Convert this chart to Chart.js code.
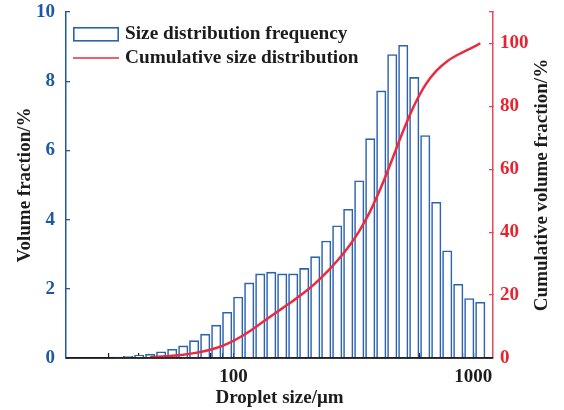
<!DOCTYPE html>
<html>
<head>
<meta charset="utf-8">
<script src="https://cdn.jsdelivr.net/npm/chart.js@4/dist/chart.umd.min.js"></script>
<style>
  html, body { margin: 0; padding: 0; background: #ffffff; }
  #wrap { width: 564px; height: 410px; }
</style>
</head>
<body>
<div id="wrap"><canvas id="chart" width="564" height="410"></canvas></div>
<script>
// Droplet size classes (µm, bin centres) and their volume fraction (%)
const dropletSizes = [32.7, 36.3, 40.4, 44.9, 49.9, 55.5, 61.7, 68.5, 76.2, 84.7,
                      94.1, 104.6, 116.3, 129.3, 143.7, 159.7, 177.5, 197.3, 219.3, 243.7,
                      270.9, 301.1, 334.7, 372.0, 413.5, 459.6, 510.8, 567.8, 631.1, 701.5,
                      779.7, 866.6, 963.3, 1070.7];
const volumeFraction = [0.03, 0.05, 0.08, 0.11, 0.18, 0.25, 0.35, 0.50, 0.69, 0.95,
                        1.32, 1.76, 2.17, 2.43, 2.48, 2.43, 2.43, 2.59, 2.93, 3.38,
                        3.82, 4.30, 5.12, 6.34, 7.72, 8.77, 9.04, 8.11, 6.43, 4.50,
                        3.10, 2.13, 1.72, 1.61];

// Cumulative volume fraction (%) along the same size classes
const cumulativeSizes = [44.9, 49.9, 55.5, 61.7, 68.5, 76.2, 84.7,
                         94.1, 104.6, 116.3, 129.3, 143.7, 159.7, 177.5, 197.3, 219.3, 243.7,
                         270.9, 301.1, 334.7, 372.0, 413.5, 459.6, 510.8, 567.8, 631.1, 701.5,
                         779.7, 866.6, 963.3, 1070.7];
const cumulativeFraction = [0.27, 0.45, 0.70, 1.05, 1.55, 2.24, 3.19,
                            4.51, 6.27, 8.44, 10.87, 13.35, 15.78, 18.21, 20.80, 23.73, 27.11,
                            30.93, 35.23, 40.35, 46.69, 54.41, 63.18, 72.22, 80.33, 86.76, 91.26,
                            94.36, 96.49, 98.21, 100.0];

// Axis ticks
const xTickValues = [30, 40, 50, 60, 70, 80, 90, 100, 200, 300, 400, 500, 600, 700, 800, 900, 1000];
const xTickLabels = [100, 1000];
const leftTicks = [0, 2, 4, 6, 8, 10];
const rightTicks = [0, 20, 40, 60, 80, 100];

const BLUE = '#1c58a4';
const BAR_BLUE = '#2b63b1';
const RED = '#e8222f';
const RED_AXIS = '#e8475a';
const CURVE_RED = '#ec2a3e';
const INK = '#1c1c1c';
const SERIF = "'Liberation Serif', 'DejaVu Serif', serif";
const tickFont = { family: SERIF, size: 19, weight: 'bold' };

const seriesNames = ['Size distribution frequency', 'Cumulative size distribution'];
const axisTitles = {
  x: 'Droplet size/\u03bcm',
  y: 'Volume fraction/%',
  y1: 'Cumulative volume fraction/%'
};

// Axis titles, drawn so the right-hand one reads bottom-to-top like the left one
const axisTitlePlugin = {
  id: 'axisTitles',
  afterDraw(chart) {
    const { ctx, chartArea: a } = chart;
    const midY = (a.top + a.bottom) / 2;
    ctx.save();
    ctx.fillStyle = INK;
    ctx.font = `bold 19px ${SERIF}`;
    ctx.textAlign = 'center';
    ctx.textBaseline = 'middle';
    ctx.fillText(axisTitles.x, (a.left + a.right) / 2, a.bottom + 40);
    ctx.save();
    ctx.translate(a.left - 41, midY);
    ctx.rotate(-Math.PI / 2);
    ctx.fillText(axisTitles.y, 0, 0);
    ctx.restore();
    ctx.save();
    ctx.translate(a.right + 49, midY);
    ctx.rotate(-Math.PI / 2);
    ctx.fillText(axisTitles.y1, 0, 0);
    ctx.restore();
    ctx.restore();
  }
};

// Legend inside the plot, top-left corner
const legendPlugin = {
  id: 'insideLegend',
  afterDraw(chart) {
    const { ctx, chartArea: a } = chart;
    const bars = chart.data.datasets[1];
    const curve = chart.data.datasets[0];
    const x0 = a.left + 7, w = 46;
    ctx.save();
    ctx.strokeStyle = bars.borderColor;
    ctx.lineWidth = 1.6;
    ctx.fillStyle = '#ffffff';
    ctx.fillRect(x0, a.top + 15, w, 14.5);
    ctx.strokeRect(x0 + 0.8, a.top + 15.8, w - 1.6, 13);
    ctx.strokeStyle = curve.borderColor;
    ctx.lineWidth = 1.5;
    ctx.beginPath();
    ctx.moveTo(x0, a.top + 46);
    ctx.lineTo(x0 + w, a.top + 46);
    ctx.stroke();
    ctx.fillStyle = INK;
    ctx.font = `bold 19.3px ${SERIF}`;
    ctx.textAlign = 'left';
    ctx.textBaseline = 'alphabetic';
    ctx.fillText(seriesNames[0], x0 + 52, a.top + 26.5);
    ctx.fillText(seriesNames[1], x0 + 52, a.top + 50.8);
    ctx.restore();
  }
};

// Keep the bottom axis line visible over the bar bases
const baseLinePlugin = {
  id: 'baseLine',
  afterDatasetsDraw(chart) {
    const { ctx, chartArea: a } = chart;
    ctx.save();
    ctx.strokeStyle = INK;
    ctx.lineWidth = 1.5;
    ctx.beginPath();
    ctx.moveTo(a.left, a.bottom);
    ctx.lineTo(a.right, a.bottom);
    ctx.stroke();
    ctx.restore();
  }
};

// Fixed axis box sizes, without the extra room Chart.js keeps for overhanging labels
const fixBox = (w, h) => s => {
  if (w !== null) s.width = w;
  if (h !== null) s.height = h;
  s.paddingTop = 0; s.paddingBottom = 0; s.paddingLeft = 0; s.paddingRight = 0;
};

new Chart(document.getElementById('chart'), {
  type: 'bar',
  data: {
    datasets: [
      {
        type: 'line',
        label: seriesNames[1],
        data: cumulativeSizes.map((s, i) => ({ x: s, y: cumulativeFraction[i] })),
        yAxisID: 'y1',
        borderColor: CURVE_RED,
        borderWidth: 2.5,
        pointRadius: 0,
        cubicInterpolationMode: 'monotone',
        fill: false,
        order: 0
      },
      {
        type: 'bar',
        label: seriesNames[0],
        data: dropletSizes.map((s, i) => ({ x: s, y: volumeFraction[i] })),
        yAxisID: 'y',
        backgroundColor: '#ffffff',
        borderColor: BAR_BLUE,
        borderWidth: 1.6,
        barThickness: 9.4,
        order: 1
      }
    ]
  },
  options: {
    responsive: false,
    devicePixelRatio: 1,
    animation: false,
    layout: { padding: { top: 12, left: 0, right: 0, bottom: 0 } },
    plugins: {
      legend: { display: false },
      tooltip: { enabled: false },
      title: { display: false }
    },
    scales: {
      x: {
        type: 'logarithmic',
        position: 'bottom',
        min: 20,
        max: 1210,
        offset: false,
        afterBuildTicks: s => { s.ticks = xTickValues.map(v => ({ value: v })); },
        afterFit: fixBox(null, 52),
        grid: { display: true, drawOnChartArea: false, drawTicks: true, tickLength: -5,
                color: INK, lineWidth: 1.2, offset: false },
        border: { display: true, color: INK, width: 1.5 },
        ticks: {
          autoSkip: false, maxRotation: 0, minRotation: 0, padding: 13,
          font: tickFont, color: INK,
          callback: v => (xTickLabels.includes(v) ? String(v) : '')
        }
      },
      y: {
        type: 'linear',
        position: 'left',
        min: 0,
        max: 10,
        afterBuildTicks: s => { s.ticks = leftTicks.map(v => ({ value: v })); },
        afterFit: fixBox(66, null),
        grid: { display: true, drawOnChartArea: false, drawTicks: true, tickLength: -4,
                color: BLUE, lineWidth: 1.3 },
        border: { display: true, color: BLUE, width: 1.5 },
        ticks: { padding: 15, font: tickFont, color: BLUE }
      },
      y1: {
        type: 'linear',
        position: 'right',
        min: 0,
        max: 110,
        afterBuildTicks: s => { s.ticks = rightTicks.concat([110]).map(v => ({ value: v })); },
        afterFit: fixBox(71, null),
        grid: { display: true, drawOnChartArea: false, drawTicks: true, tickLength: -4,
                color: RED_AXIS, lineWidth: 1.3 },
        border: { display: true, color: RED_AXIS, width: 1.5 },
        ticks: { padding: 11, font: tickFont, color: RED,
                 callback: v => (rightTicks.includes(v) ? String(v) : '') }
      }
    }
  },
  plugins: [axisTitlePlugin, legendPlugin, baseLinePlugin]
});
</script>
</body>
</html>
